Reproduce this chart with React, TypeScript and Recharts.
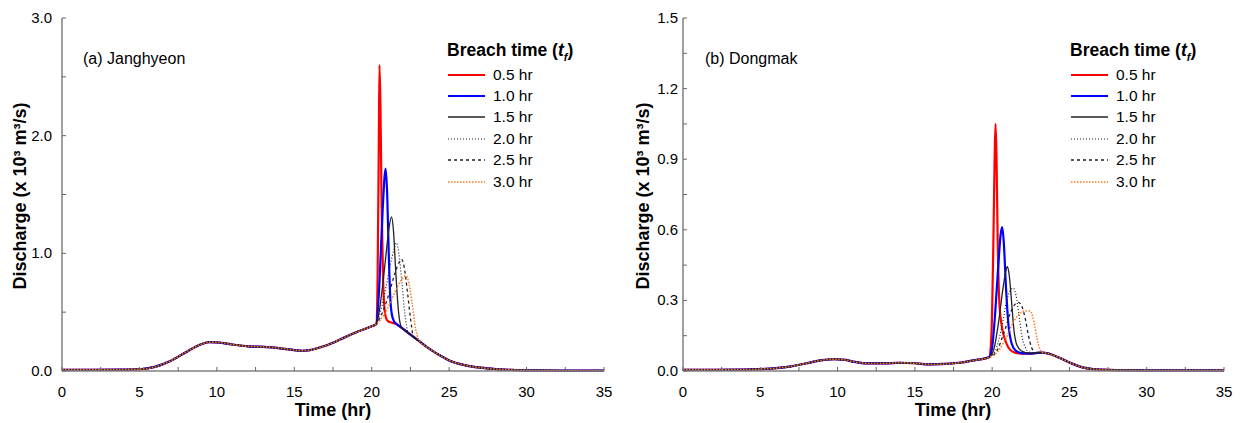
import React from 'react'
import { LineChart, Line, XAxis, YAxis, Legend } from 'recharts'

const FONT = '"Liberation Sans", Arial, Helvetica, sans-serif'

// time (hr), discharge (x 10^3 m3/s)
// (a) Janghyeon
const baseA = [
	[0, 0.01], [2, 0.01], [4, 0.012], [5, 0.015], [6, 0.035], [7, 0.085], [8, 0.16],
	[9, 0.228], [9.5, 0.245], [10, 0.244], [11, 0.225], [12, 0.21], [13, 0.205],
	[14, 0.195], [15, 0.178], [15.5, 0.172], [16, 0.178], [17, 0.215], [18, 0.27],
	[19, 0.33], [20, 0.38], [20.3, 0.4],
]
const recessionA = [
	[21.5, 0.405], [22, 0.36], [22.5, 0.31], [23, 0.26], [23.5, 0.21], [24, 0.165],
	[24.5, 0.125], [25, 0.09], [26, 0.05], [27, 0.028], [28, 0.016], [29, 0.01],
	[30, 0.006], [32, 0.004], [35, 0.003],
]
const breachA05 = [
	[20.3, 0.4], [20.38, 0.8], [20.45, 1.8], [20.5, 2.6], [20.56, 2.3], [20.64, 1.4],
	[20.74, 0.75], [20.85, 0.5], [21.0, 0.43], [21.3, 0.41],
]
const breachA10 = [
	[20.3, 0.4], [20.5, 0.75], [20.7, 1.35], [20.9, 1.72], [21.0, 1.5], [21.1, 1.0],
	[21.2, 0.62], [21.3, 0.48], [21.45, 0.42], [21.6, 0.4],
]
const breachA15 = [
	[20.3, 0.4], [20.5, 0.52], [20.7, 0.72], [20.9, 0.96], [21.1, 1.2], [21.28, 1.31],
	[21.4, 1.2], [21.55, 0.85], [21.7, 0.55], [21.8, 0.43], [21.9, 0.375],
]
const breachA20 = [
	[20.3, 0.4], [20.6, 0.52], [20.9, 0.7], [21.2, 0.9], [21.45, 1.04], [21.6, 1.09],
	[21.75, 1.0], [21.95, 0.75], [22.15, 0.48], [22.35, 0.325],
]
const breachA25 = [
	[20.3, 0.4], [20.7, 0.5], [21.1, 0.65], [21.5, 0.83], [21.8, 0.93], [21.93, 0.95],
	[22.1, 0.88], [22.3, 0.68], [22.5, 0.45], [22.7, 0.29],
]
const breachA30 = [
	[20.3, 0.4], [20.8, 0.48], [21.2, 0.58], [21.6, 0.7], [21.95, 0.78], [22.2, 0.81],
	[22.4, 0.75], [22.6, 0.58], [22.85, 0.35], [23.1, 0.25],
]

// (b) Dongmak
const baseB = [
	[0, 0.005], [2, 0.005], [4, 0.006], [5, 0.008], [6, 0.012], [7, 0.02], [8, 0.033],
	[9, 0.046], [9.8, 0.05], [10.5, 0.047], [11, 0.04], [12, 0.032], [13, 0.032],
	[14, 0.035], [15, 0.033], [16, 0.028], [17, 0.03], [18, 0.036], [19, 0.047],
	[19.8, 0.058],
]
const recessionB = [
	[22.8, 0.076], [23.2, 0.078], [23.6, 0.075], [24, 0.066], [24.5, 0.052], [25, 0.036],
	[25.5, 0.023], [26, 0.013], [26.5, 0.008], [27, 0.006], [28, 0.004], [30, 0.003],
	[35, 0.003],
]
const breachB05 = [
	[19.8, 0.058], [19.95, 0.15], [20.08, 0.55], [20.16, 0.9], [20.22, 1.05], [20.28, 0.92],
	[20.36, 0.55], [20.46, 0.3], [20.6, 0.2], [20.8, 0.14], [21.05, 0.1], [21.4, 0.08],
	[21.9, 0.074], [22.4, 0.074],
]
const breachB10 = [
	[19.8, 0.058], [20.0, 0.1], [20.2, 0.25], [20.4, 0.45], [20.55, 0.58], [20.65, 0.612],
	[20.75, 0.55], [20.9, 0.35], [21.05, 0.2], [21.25, 0.12], [21.5, 0.088], [21.9, 0.076],
	[22.4, 0.074],
]
const breachB15 = [
	[19.8, 0.058], [20.1, 0.09], [20.4, 0.2], [20.7, 0.35], [20.9, 0.43], [20.98, 0.443],
	[21.1, 0.41], [21.25, 0.3], [21.4, 0.18], [21.6, 0.11], [21.9, 0.085], [22.4, 0.076],
]
const breachB20 = [
	[19.8, 0.058], [20.2, 0.085], [20.6, 0.18], [20.95, 0.3], [21.2, 0.345], [21.37, 0.352],
	[21.55, 0.32], [21.75, 0.23], [21.95, 0.14], [22.15, 0.1], [22.4, 0.08],
]
const breachB25 = [
	[19.8, 0.058], [20.3, 0.085], [20.8, 0.17], [21.2, 0.25], [21.5, 0.285], [21.7, 0.292],
	[21.95, 0.27], [22.15, 0.22], [22.35, 0.15], [22.55, 0.1], [22.75, 0.08],
]
const breachB30 = [
	[19.8, 0.058], [20.4, 0.085], [20.9, 0.14], [21.4, 0.21], [21.8, 0.245], [22.1, 0.255],
	[22.45, 0.255], [22.7, 0.21], [22.9, 0.14], [23.05, 0.1], [23.2, 0.08],
]

const seriesNames = ['0.5 hr', '1.0 hr', '1.5 hr', '2.0 hr', '2.5 hr', '3.0 hr']
const xTicks = [0, 2.5, 5, 7.5, 10, 12.5, 15, 17.5, 20, 22.5, 25, 27.5, 30, 32.5, 35]
const xLabels = [0, 5, 10, 15, 20, 25, 30, 35]
const yTicksA = [0, 0.5, 1, 1.5, 2, 2.5, 3]
const yLabelsA = [0, 1, 2, 3]
const yTicksB = [0, 0.15, 0.3, 0.45, 0.6, 0.75, 0.9, 1.05, 1.2, 1.35, 1.5]
const yLabelsB = [0, 0.3, 0.6, 0.9, 1.2, 1.5]

const styles = [
	{ stroke: '#ff0000', width: 2.2, dash: undefined },
	{ stroke: '#0000ff', width: 2.2, dash: undefined },
	{ stroke: '#222222', width: 1.3, dash: undefined },
	{ stroke: '#222222', width: 1.2, dash: '1 2' },
	{ stroke: '#222222', width: 1.3, dash: '3 3' },
	{ stroke: '#ff7a1a', width: 1.5, dash: '1.5 1.5' },
]

const build = (base: number[][], breach: number[][], rec: number[][]) => {
	const t0 = breach[0][0]
	const t1 = breach[breach.length - 1][0]
	return [
		...base.filter((p) => p[0] < t0),
		...breach,
		...rec.filter((p) => p[0] > t1),
	].map(([t, q]) => ({ t, q }))
}

const near = (list: number[], v: number) => list.some((l) => Math.abs(l - v) < 1e-6)

const XTick = (props: any) => {
	const { x, y, payload } = props
	const v = payload.value
	return (
		<g>
			<line x1={x} y1={y} x2={x} y2={y - 4} stroke="#666" strokeWidth={1} />
			{near(xLabels, v) && (
				<text x={x} y={y + 26} textAnchor="middle" fontSize={15} fontFamily={FONT} fill="#000">
					{v}
				</text>
			)}
		</g>
	)
}

const makeYTick = (labels: number[], gap: number) => (props: any) => {
	const { x, y, payload } = props
	const v = payload.value
	return (
		<g>
			<line x1={x} y1={y} x2={x + 4} y2={y} stroke="#666" strokeWidth={1} />
			{near(labels, v) && (
				<text x={x - gap} y={y + 5} textAnchor="end" fontSize={15} fontFamily={FONT} fill="#000">
					{v.toFixed(1)}
				</text>
			)}
		</g>
	)
}

const LegendBox = (props: any) => {
	const { payload } = props
	return (
		<div style={{ fontFamily: FONT, color: '#000' }}>
			<div style={{ fontSize: 17.5, fontWeight: 'bold', height: 27, lineHeight: '26px', whiteSpace: 'nowrap' }}>
				Breach time (<i>t</i>
				<sub style={{ fontSize: 11, fontStyle: 'italic' }}>f</sub>)
			</div>
			{(payload || []).map((p: any) => {
				const s = styles[seriesNames.indexOf(p.value)]
				return (
					<div key={p.value} style={{ height: 21.4, display: 'flex', alignItems: 'center' }}>
						<svg width={40} height={10} style={{ marginRight: 6 }}>
							<line x1={1} y1={5} x2={38} y2={5} stroke={s.stroke} strokeWidth={s.width} strokeDasharray={s.dash} />
						</svg>
						<span style={{ fontSize: 15.5 }}>{p.value}</span>
					</div>
				)
			})}
		</div>
	)
}

const Panel = (props: {
	width: number
	yWidth: number
	right: number
	yMax: number
	yTicks: number[]
	yTick: any
	data: { t: number; q: number }[][]
	legendLeft: number
}) => {
	const { width, yWidth, right, yMax, yTicks, yTick, data, legendLeft } = props
	return (
		<LineChart width={width} height={423} margin={{ top: 18, right, bottom: 0, left: 0 }}>
			<XAxis
				dataKey="t"
				type="number"
				domain={[0, 35]}
				ticks={xTicks}
				interval={0}
				height={52}
				tickSize={0}
				tickMargin={0}
				tickLine={false}
				tick={<XTick />}
				axisLine={{ stroke: '#808080', strokeWidth: 1.5 }}
			/>
			<XAxis xAxisId="top" orientation="top" height={0} tick={false} tickLine={false} axisLine={{ stroke: '#808080', strokeWidth: 1.5 }} />
			<YAxis
				type="number"
				domain={[0, yMax]}
				ticks={yTicks}
				interval={0}
				width={yWidth}
				tickSize={0}
				tickMargin={0}
				tickLine={false}
				tick={yTick}
				axisLine={{ stroke: '#808080', strokeWidth: 1.5 }}
			/>
			<YAxis yAxisId="right" orientation="right" width={0} tick={false} tickLine={false} axisLine={{ stroke: '#111', strokeWidth: 1.2 }} />
			<Legend
				layout="vertical"
				align="center"
				verticalAlign="middle"
				content={<LegendBox />}
				wrapperStyle={{ left: legendLeft, top: 37, width: 190 }}
			/>
			{seriesNames.map((name, i) => (
				<Line
					key={name}
					name={name}
					data={data[i]}
					dataKey="q"
					type="monotone"
					stroke={styles[i].stroke}
					strokeWidth={styles[i].width}
					strokeDasharray={styles[i].dash}
					dot={false}
					activeDot={false}
					isAnimationActive={false}
					legendType="plainline"
				/>
			))}
		</LineChart>
	)
}

const dataA = [breachA05, breachA10, breachA15, breachA20, breachA25, breachA30].map((b) => build(baseA, b, recessionA))
const dataB = [breachB05, breachB10, breachB15, breachB20, breachB25, breachB30].map((b) => build(baseB, b, recessionB))

const yTitle = 'Discharge (x 10³ m³/s)'

export default function App() {
	return (
		<div style={{ position: 'absolute', left: 0, top: 0, width: 1241, height: 423, background: '#fff' }}>
			<div style={{ position: 'absolute', left: 0, top: 0 }}>
				<Panel width={620} yWidth={62} right={16} yMax={3} yTicks={yTicksA} yTick={makeYTick(yLabelsA, 10)} data={dataA} legendLeft={447} />
			</div>
			<div style={{ position: 'absolute', left: 620, top: 0 }}>
				<Panel width={621} yWidth={63} right={17} yMax={1.5} yTicks={yTicksB} yTick={makeYTick(yLabelsB, 5)} data={dataB} legendLeft={450} />
			</div>
			<svg width={1241} height={423} style={{ position: 'absolute', left: 0, top: 0, pointerEvents: 'none' }}>
				<g fontFamily={FONT} fill="#000">
					<text x={83} y={64} fontSize={16}>(a) Janghyeon</text>
					<text x={705} y={64} fontSize={16}>(b) Dongmak</text>
					<text x={333} y={416} fontSize={18} fontWeight="bold" textAnchor="middle">Time (hr)</text>
					<text x={953} y={416} fontSize={18} fontWeight="bold" textAnchor="middle">Time (hr)</text>
					<text transform="translate(26,196) rotate(-90)" fontSize={18} fontWeight="bold" textAnchor="middle">{yTitle}</text>
					<text transform="translate(649,196) rotate(-90)" fontSize={18} fontWeight="bold" textAnchor="middle">{yTitle}</text>
				</g>
			</svg>
		</div>
	)
}
